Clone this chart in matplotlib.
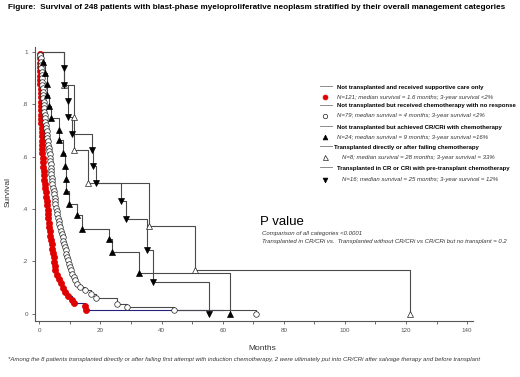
import matplotlib
matplotlib.use("Agg")
import matplotlib.pyplot as plt
from matplotlib.lines import Line2D

plt.rcParams["font.family"] = ["Liberation Sans", "DejaVu Sans"]

W, H = 520, 377

# --- data: (months, survival after each event) ---
SUPP_T = [0.1, 0.15, 0.2, 0.2, 0.25, 0.3, 0.3, 0.35, 0.4, 0.4, 0.45, 0.45, 0.5, 0.55, 0.6,
          0.65, 0.7, 0.75, 0.8, 0.85, 0.9, 0.95, 1.0, 1.05, 1.1, 1.2, 1.3, 1.4, 1.5, 1.6,
          1.75, 1.9, 2.1, 2.25, 2.4, 2.6, 2.75, 2.85, 3.0, 3.15, 3.3, 3.45, 3.6, 3.8, 4.0,
          4.25, 4.5, 4.7, 4.9, 5.1, 5.3, 5.9, 6.5, 7.2, 7.9, 8.5, 9.3, 10.6, 11.3, 15.0, 15.4]
SUPP_S = [0.992, 0.975, 0.959, 0.942, 0.926, 0.909, 0.893, 0.876, 0.860, 0.843, 0.826, 0.810,
          0.793, 0.777, 0.760, 0.744, 0.727, 0.711, 0.694, 0.678, 0.661, 0.645, 0.628, 0.612,
          0.595, 0.579, 0.562, 0.545, 0.529, 0.512, 0.496, 0.479, 0.463, 0.446, 0.430, 0.413,
          0.397, 0.380, 0.364, 0.347, 0.331, 0.314, 0.298, 0.281, 0.264, 0.248, 0.231, 0.215,
          0.198, 0.182, 0.165, 0.149, 0.132, 0.116, 0.099, 0.083, 0.066, 0.050, 0.041, 0.028,
          0.015]
SUPP_END = 60.0

NORESP_T = [0.3, 0.4, 0.5, 0.6, 0.7, 0.8, 0.9, 0.9, 1.0, 1.0, 1.1, 1.2, 1.3, 1.3, 1.4, 1.5,
            1.6, 1.7, 1.8, 1.9, 2.0, 2.1, 2.2, 2.4, 2.5, 2.6, 2.8, 2.9, 3.1, 3.2, 3.4, 3.5,
            3.6, 3.7, 3.8, 3.8, 3.9, 4.0, 4.1, 4.3, 4.5, 4.7, 4.8, 5.0, 5.1, 5.3, 5.5, 5.7,
            5.9, 6.1, 6.4, 6.6, 6.8, 7.1, 7.3, 7.6, 7.9, 8.1, 8.4, 8.6, 8.9, 9.1, 9.4, 9.7,
            10.1, 10.4, 10.8, 11.3, 11.8, 12.5, 13.4, 15.0, 17.0, 18.5, 25.5, 28.7, 44.0, 70.8]
NORESP_S = [0.987, 0.975, 0.962, 0.949, 0.937, 0.924, 0.911, 0.899, 0.886, 0.873, 0.861, 0.848,
            0.835, 0.823, 0.810, 0.797, 0.785, 0.772, 0.759, 0.747, 0.734, 0.722, 0.709, 0.696,
            0.684, 0.671, 0.658, 0.646, 0.633, 0.620, 0.608, 0.595, 0.582, 0.570, 0.557, 0.544,
            0.532, 0.519, 0.506, 0.494, 0.481, 0.468, 0.456, 0.443, 0.430, 0.418, 0.405, 0.392,
            0.380, 0.367, 0.354, 0.342, 0.329, 0.316, 0.304, 0.291, 0.278, 0.266, 0.253, 0.241,
            0.228, 0.215, 0.203, 0.190, 0.177, 0.165, 0.152, 0.139, 0.127, 0.114, 0.101, 0.089,
            0.076, 0.060, 0.038, 0.025, 0.013, 0.0]

CR_T = [1.3, 1.9, 2.6, 2.6, 3.3, 3.8, 6.3, 6.6, 7.9, 8.5, 8.7, 8.8, 9.8, 12.3, 14.0,
        22.8, 23.8, 32.6, 62.3]
CR_S = [0.96, 0.92, 0.876, 0.837, 0.792, 0.749, 0.703, 0.662, 0.614, 0.564, 0.515, 0.468,
        0.42, 0.375, 0.324, 0.283, 0.234, 0.155, 0.0]

TXD_T = [8.0, 11.4, 11.4, 15.8, 36.0, 50.8, 121.2]
TXD_S = [0.875, 0.75, 0.625, 0.5, 0.333, 0.167, 0.0]

TXCR_T = [8.0, 8.0, 9.5, 9.5, 10.7, 17.4, 17.6, 18.7, 26.9, 28.4, 35.4, 37.1, 55.4]
TXCR_S = [0.9375, 0.875, 0.8125, 0.75, 0.6875, 0.625, 0.5625, 0.5, 0.432, 0.36, 0.243,
          0.122, 0.0]

GROUP_NAMES = [
    "Not transplanted and received supportive care only",
    "Not transplanted but received chemotherapy with no response",
    "Not transplanted but achieved CR/CRi with chemotherapy",
    "Transplanted directly or after failing chemotherapy",
    "Transplanted in CR or CRi with pre-transplant chemotherapy",
]
GROUP_NOTES = [
    "N=121; median survival = 1.6 months; 3-year survival <2%",
    "N=79; median survival = 4 months; 3-year survival <2%",
    "N=24; median survival = 9 months; 3-year survival =16%",
    "N=8; median survival = 28 months; 3-year survival = 33%",
    "N=16; median survival = 25 months; 3-year survival = 12%",
]

X_TICKS = [0, 20, 40, 60, 80, 100, 120, 140]
Y_TICKS = [0, 0.2, 0.4, 0.6, 0.8, 1.0]
Y_TICK_LABELS = ["0", ".2", ".4", ".6", ".8", "1"]

LINE_GRAY = "#4a4a4a"
NAVY = "#22227a"


def fx(px):
    return px / W


def fy(py):
    return 1 - py / H


fig = plt.figure(figsize=(W / 100, H / 100), dpi=100)
ax = fig.add_axes([fx(35), fy(320.7), fx(473) - fx(35), fy(46.7) - fy(320.7)])
ax.set_xlim(-1.4, 141.9)
ax.set_ylim(-0.0275, 1.02)

styles = [
    dict(marker="o", mfc="#e00000", mec="#e00000", ms=4.4, line=NAVY),
    dict(marker="o", mfc="white", mec="#222222", ms=4.0, line=LINE_GRAY),
    dict(marker="^", mfc="black", mec="black", ms=4.3, line=LINE_GRAY),
    dict(marker="^", mfc="white", mec="#222222", ms=4.5, line=LINE_GRAY),
    dict(marker="v", mfc="black", mec="black", ms=4.3, line=LINE_GRAY),
]
series = [
    (SUPP_T, SUPP_S, SUPP_END),
    (NORESP_T, NORESP_S, None),
    (CR_T, CR_S, None),
    (TXD_T, TXD_S, None),
    (TXCR_T, TXCR_S, None),
]

# draw lines first, then markers on top
for (t, s, end), st in zip(series, styles):
    xs = [0] + list(t)
    ys = [1.0] + list(s)
    if end is not None:
        xs.append(end)
        ys.append(s[-1])
    ax.step(xs, ys, where="post", color=st["line"], lw=0.8, zorder=2)

for (t, s, end), st in zip(series, styles):
    ax.plot(t, s, linestyle="none", marker=st["marker"], ms=st["ms"],
            mfc=st["mfc"], mec=st["mec"], mew=0.5, zorder=3)

for side in ["top", "right"]:
    ax.spines[side].set_visible(False)
for side in ["left", "bottom"]:
    ax.spines[side].set_color("#555555")
    ax.spines[side].set_linewidth(0.8)

ax.set_xticks(X_TICKS)
ax.set_xticks(range(10, 141, 20), minor=True)
ax.set_yticks(Y_TICKS)
ax.set_yticklabels(Y_TICK_LABELS)
ax.tick_params(axis="both", which="both", direction="out", length=2.2, width=0.6,
               color="#555555", labelsize=4.5, labelcolor="#555555", pad=3)

fig.text(fx(8), fy(192), "Survival", rotation=90, ha="center", va="center",
         fontsize=6, color="#333333")
fig.text(fx(262), fy(349), "Months", ha="center", va="center", fontsize=6, color="#333333")

fig.text(fx(8), fy(7.5),
         "Figure:  Survival of 248 patients with blast-phase myeloproliferative neoplasm "
         "stratified by their overall management categories",
         ha="left", va="center", fontsize=5.85, fontweight="bold")

# legend, drawn by hand as in the original
name_y = [87, 106, 127, 147, 168]
note_y = [97, 116, 137, 157, 180]
name_x = [337, 337, 337, 334, 337]
note_x = [337, 337, 337, 341.5, 341.5]
for i, st in enumerate(styles):
    fig.add_artist(Line2D([fx(320), fx(332)], [fy(name_y[i] - 1), fy(name_y[i] - 1)],
                          transform=fig.transFigure, color="#777777", lw=0.6))
    fig.add_artist(Line2D([fx(325)], [fy(note_y[i])], transform=fig.transFigure,
                          marker=st["marker"], ms=st["ms"] * 0.8, mfc=st["mfc"],
                          mec=st["mec"], mew=0.5, linestyle="none"))
    fig.text(fx(name_x[i]), fy(name_y[i]), GROUP_NAMES[i], ha="left", va="center",
             fontsize=4.3, fontweight="bold")
    fig.text(fx(note_x[i]), fy(note_y[i]), GROUP_NOTES[i], ha="left", va="center",
             fontsize=4.3, style="italic", color="#333333")

fig.text(fx(260), fy(222), "P value", ha="left", va="center", fontsize=9.5)
fig.text(fx(262), fy(233), "Comparison of all categories <0.0001", ha="left", va="center",
         fontsize=4.3, style="italic", color="#333333")
fig.text(fx(262), fy(241),
         "Transplanted in CR/CRi vs.  Transplanted without CR/CRi vs CR/CRi but no transplant = 0.2",
         ha="left", va="center", fontsize=4.3, style="italic", color="#333333")

fig.text(fx(8), fy(359),
         "*Among the 8 patients transplanted directly or after failing first attempt with induction "
         "chemotherapy, 2 were ultimately put into CR/CRi after salvage therapy and before transplant",
         ha="left", va="center", fontsize=4.35, style="italic", color="#333333")

fig.savefig("out.png", dpi=100)
